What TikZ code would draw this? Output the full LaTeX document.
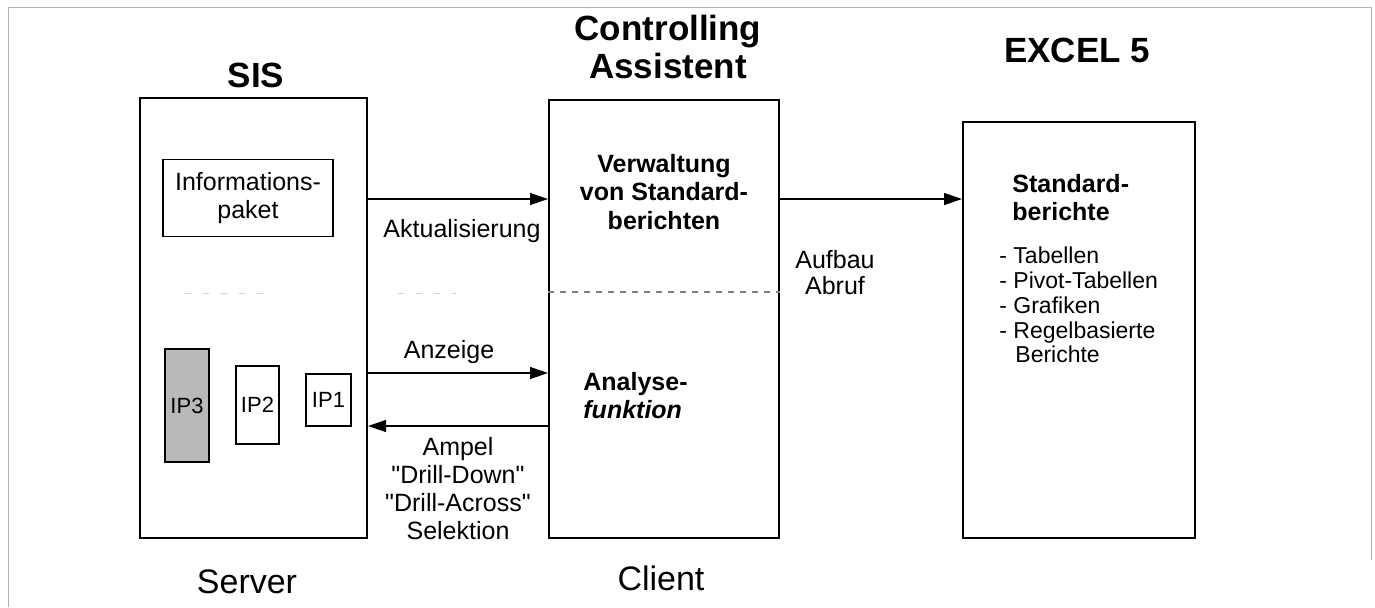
\documentclass[tikz,border=0pt]{standalone}
\usepackage{fontspec}
\setmainfont{Liberation Sans}
\usetikzlibrary{arrows.meta}

\begin{document}
\begin{tikzpicture}[x=0.5pt, y=-0.5pt]
  \tikzstyle{box} = [draw, line width=1pt, inner sep=0pt]
  \tikzstyle{ip} = [draw, line width=0.9pt, inner sep=0pt,
  font=\fontsize{11}{13}\selectfont]
  \tikzstyle{head} = [font=\fontsize{17.5}{19}\selectfont\bfseries, align=center]
  \tikzstyle{lbl} = [font=\fontsize{12.5}{14}\selectfont, align=center]
  \tikzstyle{txt} = [align=left, anchor=west, inner sep=0pt]
  \tikzstyle{arr} = [-{Triangle[length=9pt,width=6pt]}, line width=0.6pt]

  \useasboundingbox (0,0) rectangle (1375,607);
  \draw[gray!60, line width=0.5pt] (8,607) -- (8,7) -- (1371,7) -- (1371,560);

  % Define nodes
  \node[box, minimum width=113.5pt, minimum height=220pt] (sis) at (253.5,318) {};
  \node[box, minimum width=115pt, minimum height=219pt] (ca) at (664,319) {};
  \node[box, minimum width=116pt, minimum height=208pt] (xl) at (1079,330) {};

  \node[head] (sish) at (256,75) {SIS};
  \node[head] (cah) at (668,47) {Controlling\\Assistent};
  \node[head] (xlh) at (1077,50) {EXCEL 5};

  \node[lbl, font=\fontsize{17}{19}\selectfont] (srv) at (247,582) {Server};
  \node[lbl, font=\fontsize{17}{19}\selectfont] (cli) at (661,578) {Client};

  % SIS contents
  \node[box, line width=0.9pt, minimum width=85pt, minimum height=38.5pt, lbl]
    (info) at (248,198) {Informations-\\paket};
  \node[ip, fill=gray!55, minimum width=22pt, minimum height=56.5pt] (ip3) at (187,405.5) {IP3};
  \node[ip, minimum width=21.5pt, minimum height=39pt] (ip2) at (257.5,405) {IP2};
  \node[ip, minimum width=22.5pt, minimum height=26pt] (ip1) at (328.5,400) {IP1};

  % Controlling Assistent contents
  \node[lbl, font=\fontsize{12.5}{14.25}\selectfont\bfseries] (verw) at (664,192)
    {Verwaltung\\von Standard-\\berichten};
  \node[txt, font=\fontsize{12.5}{14}\selectfont\bfseries] (ana)
    at (583,396) {Analyse-\\\textit{funktion}};

  % EXCEL contents
  \node[txt, font=\fontsize{12.5}{14}\selectfont\bfseries] (std)
    at (1012,198) {Standard-\\berichte};
  \node[txt, font=\fontsize{11.5}{12.4}\selectfont] (list)
    at (999,305) {- Tabellen\\- Pivot-Tabellen\\- Grafiken\\- Regelbasierte\\\hspace*{8pt}Berichte};

  % dashed divisions
  \draw[gray, dashed, line width=0.6pt] (ca.west |- 0,292) -- (ca.east |- 0,292);
  \draw[gray!35, dash pattern=on 3pt off 6pt] (185,293) -- (272,293);
  \draw[gray!35, dash pattern=on 3pt off 6pt] (398,293) -- (456,293);

  % connectors
  \coordinate (ya) at (0,199);
  \coordinate (yb) at (0,373);
  \coordinate (yc) at (0,426);
  \draw[arr] (sis.east |- ya) -- (ca.west |- ya);
  \draw[arr] (ca.east |- ya) -- (xl.west |- ya);
  \draw[arr] (sis.east |- yb) -- (ca.west |- yb);
  \draw[arr] (ca.west |- yc) -- (sis.east |- yc);

  \node[lbl] (akt) at (462,231) {Aktualisierung};
  \node[lbl] (anz) at (449,352) {Anzeige};
  \node[lbl] (amp) at (458,489)
    {Ampel\\\textquotedbl Drill-Down\textquotedbl\\\textquotedbl Drill-Across\textquotedbl\\Selektion};
  \node[lbl, font=\fontsize{12.5}{13}\selectfont] (auf) at (835,273) {Aufbau\\Abruf};
\end{tikzpicture}
\end{document}
